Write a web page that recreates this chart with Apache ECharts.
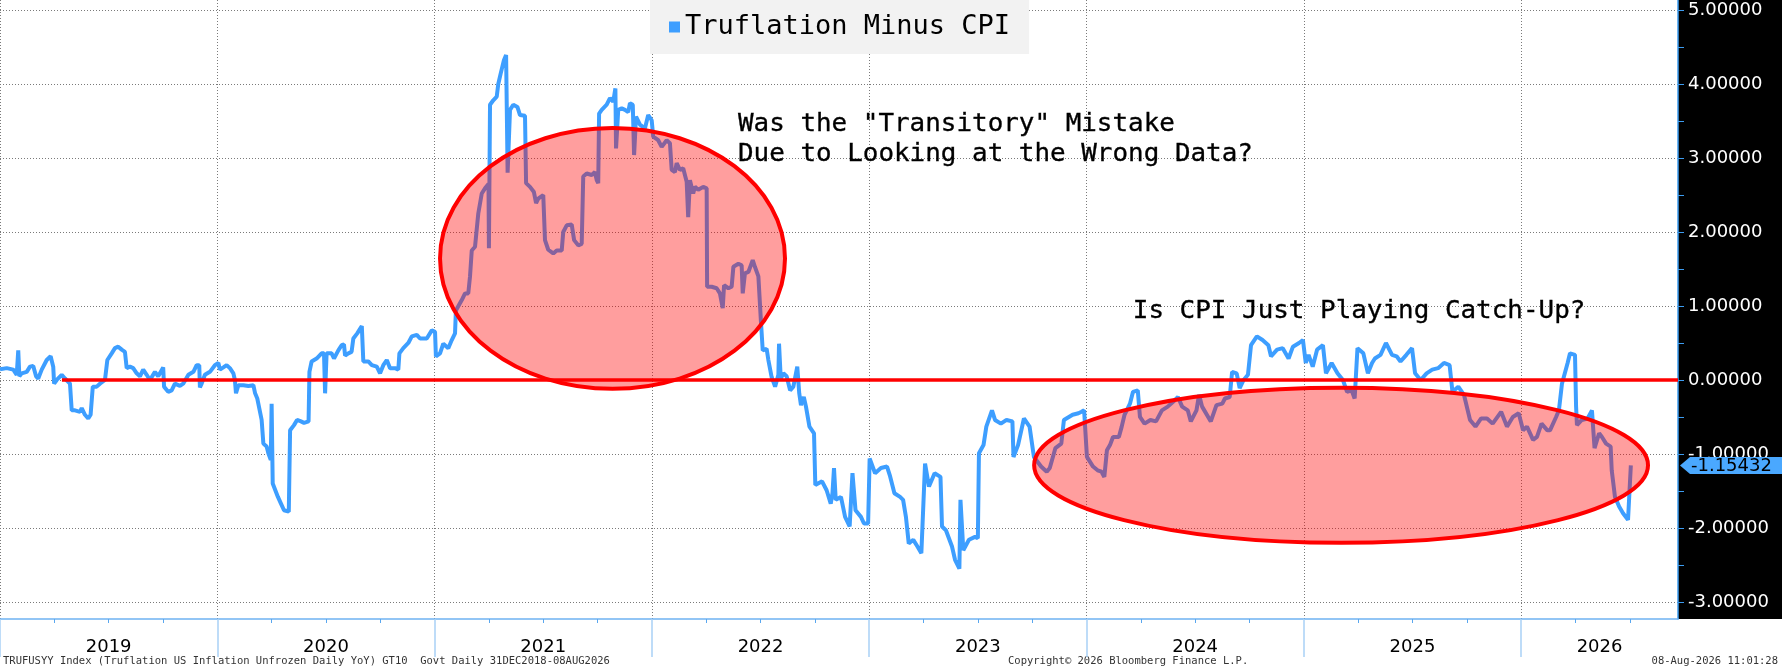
<!DOCTYPE html>
<html>
<head>
<meta charset="utf-8">
<script src="https://cdn.jsdelivr.net/npm/echarts@6/dist/echarts.min.js"></script>
<style>html,body{margin:0;padding:0;background:#fff}#c{width:1782px;height:670px}</style>
</head>
<body>
<div id="c"></div>
<script>
// ---------- DATA (decimal year, value) ----------
const seriesName = 'Truflation Minus CPI';
const seg2019 = [[2019.000,0.145],[2019.031,0.16],[2019.061,0.14],[2019.077,0.07],[2019.084,0.40],[2019.089,0.05],[2019.100,0.09],[2019.123,0.11],[2019.138,0.18],[2019.153,0.19],
[2019.166,0.05],[2019.176,0.02],[2019.192,0.14],[2019.215,0.27],[2019.233,0.32],[2019.245,0.18],[2019.249,-0.05],[2019.261,0.00],[2019.284,0.07],[2019.299,0.02],
[2019.322,-0.05],[2019.330,-0.41],[2019.345,-0.41],[2019.368,-0.43],[2019.376,-0.38],[2019.391,-0.47],[2019.406,-0.52],[2019.417,-0.47],[2019.427,-0.09],[2019.445,-0.09],
[2019.460,-0.05],[2019.483,0.00],[2019.494,0.27],[2019.514,0.36],[2019.529,0.43],[2019.544,0.45],[2019.560,0.41],[2019.575,0.38],[2019.583,0.16],[2019.598,0.18],
[2019.613,0.16],[2019.629,0.09],[2019.644,0.05],[2019.659,0.14],[2019.675,0.07],[2019.690,0.00],[2019.713,0.11],[2019.728,0.05],[2019.751,0.17],[2019.755,-0.09],
[2019.774,-0.16],[2019.790,-0.14],[2019.805,-0.05],[2019.828,-0.08],[2019.843,-0.05],[2019.867,0.07],[2019.890,0.11],[2019.905,0.20],[2019.917,0.20],[2019.920,-0.10],
[2019.928,-0.05],[2019.943,0.07],[2019.966,0.11],[2019.989,0.20]];
const seg2020 = [[2020.005,0.23],[2020.012,0.14],[2020.028,0.17],[2020.043,0.20],[2020.058,0.16],[2020.074,0.09],[2020.081,0.00],[2020.086,-0.18],[2020.097,-0.07],[2020.120,-0.07],
[2020.143,-0.08],[2020.166,-0.07],[2020.174,-0.18],[2020.184,-0.25],[2020.193,-0.38],[2020.204,-0.54],[2020.212,-0.86],[2020.227,-0.90],[2020.235,-0.99],[2020.246,-1.08],
[2020.250,-0.32],[2020.255,-1.40],[2020.279,-1.58],[2020.293,-1.67],[2020.307,-1.76],[2020.329,-1.78],[2020.335,-0.68],[2020.353,-0.61],[2020.367,-0.54],[2020.385,-0.56],
[2020.399,-0.58],[2020.420,-0.56],[2020.424,0.11],[2020.434,0.25],[2020.457,0.29],[2020.480,0.36],[2020.491,0.36],[2020.496,-0.18],[2020.503,0.36],[2020.526,0.36],
[2020.537,0.29],[2020.557,0.40],[2020.572,0.47],[2020.583,0.48],[2020.588,0.33],[2020.603,0.36],[2020.618,0.38],[2020.626,0.56],[2020.644,0.63],[2020.665,0.73],
[2020.672,0.25],[2020.695,0.25],[2020.711,0.20],[2020.734,0.18],[2020.749,0.09],[2020.764,0.20],[2020.780,0.27],[2020.795,0.16],[2020.818,0.16],[2020.833,0.14],
[2020.838,0.36],[2020.856,0.43],[2020.879,0.50],[2020.895,0.59],[2020.918,0.61],[2020.933,0.56],[2020.964,0.56],[2020.987,0.67]];
const seg2021 = [[2021.002,0.65],[2021.006,0.32],[2021.025,0.36],[2021.040,0.49],[2021.063,0.43],[2021.079,0.54],[2021.094,0.63],[2021.098,0.94],[2021.125,1.08],[2021.140,1.17],
[2021.155,1.17],[2021.163,1.40],[2021.171,1.75],[2021.186,1.80],[2021.201,2.25],[2021.217,2.52],[2021.232,2.59],[2021.240,2.61],[2021.248,2.65],[2021.250,1.78],
[2021.255,3.72],[2021.270,3.78],[2021.286,3.83],[2021.293,4.00],[2021.304,4.14],[2021.319,4.32],[2021.329,4.39],[2021.336,2.80],[2021.347,3.65],[2021.362,3.72],
[2021.381,3.69],[2021.393,3.58],[2021.416,3.57],[2021.421,2.66],[2021.439,2.61],[2021.457,2.54],[2021.467,2.39],[2021.477,2.45],[2021.500,2.50],[2021.508,1.89],
[2021.523,1.76],[2021.546,1.71],[2021.562,1.75],[2021.585,1.75],[2021.592,2.00],[2021.608,2.09],[2021.631,2.10],[2021.642,1.89],[2021.661,1.82],[2021.677,1.84],
[2021.684,2.75],[2021.700,2.79],[2021.723,2.77],[2021.738,2.81],[2021.746,2.70],[2021.753,2.66],[2021.757,3.60],[2021.769,3.65],[2021.792,3.72],[2021.807,3.81],
[2021.822,3.76],[2021.832,3.94],[2021.835,3.13],[2021.845,3.65],[2021.861,3.67],[2021.876,3.65],[2021.891,3.62],[2021.899,3.74],[2021.912,3.72],[2021.918,3.04],
[2021.927,3.56],[2021.945,3.45],[2021.968,3.40],[2021.983,3.58],[2021.999,3.51]];
const seg2022 = [[2022.006,3.29],[2022.029,3.24],[2022.045,3.15],[2022.068,3.24],[2022.083,3.20],[2022.091,2.84],[2022.106,2.81],[2022.114,2.93],[2022.129,2.84],[2022.144,2.86],
[2022.160,2.68],[2022.167,2.20],[2022.175,2.70],[2022.190,2.52],[2022.198,2.61],[2022.213,2.57],[2022.221,2.59],[2022.236,2.61],[2022.252,2.59],[2022.254,1.26],
[2022.275,1.26],[2022.298,1.24],[2022.313,1.17],[2022.326,0.97],[2022.332,1.28],[2022.352,1.24],[2022.367,1.26],[2022.375,1.53],[2022.398,1.57],[2022.413,1.55],
[2022.418,1.17],[2022.428,1.44],[2022.444,1.46],[2022.464,1.62],[2022.474,1.53],[2022.490,1.40],[2022.497,1.38],[2022.502,0.78],[2022.510,0.40],[2022.528,0.42],
[2022.536,0.27],[2022.551,0.04],[2022.567,-0.09],[2022.582,0.07],[2022.585,0.49],[2022.593,0.02],[2022.605,0.09],[2022.620,0.05],[2022.636,-0.14],[2022.651,-0.09],
[2022.669,0.18],[2022.678,-0.18],[2022.686,-0.34],[2022.699,-0.23],[2022.709,-0.36],[2022.725,-0.63],[2022.746,-0.72],[2022.752,-1.42],[2022.783,-1.37],[2022.804,-1.49],
[2022.823,-1.67],[2022.831,-1.53],[2022.838,-1.19],[2022.846,-1.62],[2022.870,-1.58],[2022.889,-1.85],[2022.910,-1.98],[2022.923,-1.26],[2022.937,-1.76],[2022.962,-1.85],
[2022.976,-1.94],[2022.995,-1.94]];
const seg2023 = [[2023.002,-1.06],[2023.027,-1.26],[2023.054,-1.19],[2023.082,-1.17],[2023.096,-1.30],[2023.116,-1.53],[2023.142,-1.58],[2023.156,-1.62],[2023.169,-1.85],[2023.182,-2.21],
[2023.203,-2.16],[2023.222,-2.25],[2023.240,-2.34],[2023.257,-1.13],[2023.275,-1.44],[2023.301,-1.26],[2023.328,-1.31],[2023.335,-1.98],[2023.353,-2.03],[2023.381,-2.25],
[2023.395,-2.43],[2023.415,-2.55],[2023.420,-1.62],[2023.433,-2.30],[2023.459,-2.16],[2023.487,-2.12],[2023.500,-2.14],[2023.505,-0.99],[2023.526,-0.88],[2023.539,-0.63],
[2023.565,-0.41],[2023.579,-0.54],[2023.606,-0.59],[2023.632,-0.54],[2023.659,-0.56],[2023.664,-1.04],[2023.685,-0.88],[2023.712,-0.52],[2023.738,-0.63],[2023.758,-1.04],
[2023.791,-1.17],[2023.817,-1.24],[2023.831,-1.19],[2023.857,-0.92],[2023.884,-0.86],[2023.896,-0.54],[2023.936,-0.47],[2023.963,-0.45],[2023.977,-0.43],[2023.989,-0.41]];
const seg2024 = [[2024.002,-1.04],[2024.030,-1.17],[2024.051,-1.22],[2024.069,-1.24],[2024.082,-1.31],[2024.094,-0.95],[2024.108,-0.88],[2024.122,-0.77],[2024.149,-0.77],[2024.162,-0.63],
[2024.175,-0.47],[2024.200,-0.32],[2024.214,-0.16],[2024.236,-0.14],[2024.246,-0.50],[2024.267,-0.59],[2024.294,-0.54],[2024.320,-0.56],[2024.347,-0.41],[2024.374,-0.36],
[2024.400,-0.29],[2024.421,-0.23],[2024.440,-0.36],[2024.466,-0.41],[2024.480,-0.56],[2024.506,-0.41],[2024.518,-0.20],[2024.532,-0.36],[2024.572,-0.56],[2024.598,-0.34],
[2024.625,-0.32],[2024.637,-0.25],[2024.659,-0.23],[2024.670,0.11],[2024.691,0.09],[2024.705,-0.11],[2024.723,0.00],[2024.743,0.07],[2024.757,0.47],[2024.784,0.59],
[2024.810,0.54],[2024.837,0.47],[2024.849,0.32],[2024.877,0.41],[2024.903,0.43],[2024.930,0.29],[2024.950,0.45],[2024.978,0.50],[2024.996,0.54]];
const seg2025 = [[2025.009,0.23],[2025.022,0.34],[2025.041,0.18],[2025.061,0.41],[2025.088,0.47],[2025.102,0.09],[2025.128,0.23],[2025.155,0.09],[2025.180,0.00],[2025.199,-0.16],
[2025.220,-0.14],[2025.234,-0.25],[2025.247,0.43],[2025.274,0.36],[2025.295,0.09],[2025.314,0.23],[2025.327,0.29],[2025.353,0.34],[2025.378,0.50],[2025.406,0.34],
[2025.427,0.32],[2025.445,0.25],[2025.472,0.34],[2025.498,0.43],[2025.512,0.09],[2025.538,0.00],[2025.565,0.09],[2025.591,0.14],[2025.618,0.16],[2025.645,0.23],
[2025.671,0.20],[2025.684,-0.16],[2025.711,-0.09],[2025.737,-0.20],[2025.765,-0.54],[2025.790,-0.63],[2025.816,-0.52],[2025.843,-0.52],[2025.869,-0.59],[2025.908,-0.43],
[2025.935,-0.63],[2025.962,-0.50],[2025.989,-0.45]];
const seg2026 = [[2026.009,-0.68],[2026.027,-0.63],[2026.055,-0.81],[2026.073,-0.77],[2026.094,-0.59],[2026.121,-0.68],[2026.133,-0.68],[2026.161,-0.50],[2026.174,-0.41],[2026.188,-0.05],
[2026.214,0.23],[2026.225,0.36],[2026.248,0.34],[2026.253,-0.36],[2026.257,-0.61],[2026.279,-0.54],[2026.306,-0.52],[2026.326,-0.41],[2026.338,-0.92],[2026.359,-0.72],
[2026.372,-0.77],[2026.391,-0.86],[2026.412,-0.90],[2026.417,-1.22],[2026.432,-1.58],[2026.451,-1.71],[2026.469,-1.80],[2026.492,-1.89],[2026.501,-1.87],[2026.505,-1.15432]];

const lastValue = -1.15432;
const yTickValues = [-3, -2, -1, 0, 1, 2, 3, 4, 5];
const yMinorTickValues = [-2.5, -1.5, -0.5, 0.5, 1.5, 2.5, 3.5, 4.5];
const yearBoundaries = [2019, 2020, 2021, 2022, 2023, 2024, 2025, 2026];
const quarterTicks = [2019.25, 2019.5, 2019.75, 2020.25, 2020.5, 2020.75, 2021.25, 2021.5, 2021.75, 2022.25, 2022.5, 2022.75,
  2023.25, 2023.5, 2023.75, 2024.25, 2024.5, 2024.75, 2025.25, 2025.5, 2025.75, 2026.25, 2026.5];
const yearLabelPositions = [2019.5, 2020.5, 2021.5, 2022.5, 2023.5, 2024.5, 2025.5, 2026.361];
const zeroLine = [[2019.285, 0], [2026.722, 0]];
// ellipse bounds: [xLeft, xRight, yBottom, yTop]
const ellipseBounds = [[2021.025, 2022.6125, -0.12, 3.405], [2023.759, 2026.584, -2.20, -0.104]];
const noteAnchors = [[2022.396, 3.446], [2022.396, 3.045], [2024.213, 0.919]];
const noteTexts = ['Was the "Transitory" Mistake', 'Due to Looking at the Wrong Data?', 'Is CPI Just Playing Catch-Up?'];

const X_MIN = 2019.0, X_MAX = 2026.722, Y_MIN = -3.23, Y_MAX = 5.135;
const BLUE = '#3d9eff';

const lineData = [].concat(seg2019, seg2020, seg2021, seg2022, seg2023, seg2024, seg2025, seg2026);

const chart = echarts.init(document.getElementById('c'), null, { renderer: 'canvas' });
const gridLine = { color: '#7a7a7a', type: [1, 2], width: 1 };

chart.setOption({
  animation: false,
  backgroundColor: '#ffffff',
  grid: { left: 0, right: 104, top: 0, bottom: 51, containLabel: false },
  legend: {
    data: [seriesName], left: 650, top: 0, padding: [12, 19, 12, 19],
    backgroundColor: '#f2f2f2', icon: 'rect', itemWidth: 11, itemHeight: 11,
    textStyle: { fontFamily: 'DejaVu Sans Mono', fontSize: 27, color: '#000', lineHeight: 30 }
  },
  xAxis: [
    {
      type: 'value', min: X_MIN, max: X_MAX, position: 'bottom',
      axisLine: { show: true, onZero: false, lineStyle: { color: '#6fb2f2', width: 1.5 } },
      axisTick: { show: true, customValues: quarterTicks, length: 4, lineStyle: { color: '#5aa7ef' } },
      axisLabel: { show: false }, splitLine: { show: false }
    },
    {
      type: 'value', min: X_MIN, max: X_MAX, position: 'bottom',
      axisLine: { show: false, onZero: false },
      axisTick: { show: true, customValues: yearBoundaries, length: 38, lineStyle: { color: '#a9d1f6', width: 1.5 } },
      axisLabel: { show: true, customValues: yearLabelPositions, formatter: v => String(Math.floor(v)),
        fontFamily: 'DejaVu Sans', fontSize: 18, color: '#000', margin: 19 },
      splitLine: { show: true, lineStyle: gridLine }
    }
  ],
  yAxis: [
    {
      type: 'value', min: Y_MIN, max: Y_MAX, position: 'right',
      axisLine: { show: true, onZero: false, lineStyle: { color: '#3d9cf0', width: 1.5 } },
      axisTick: { show: true, customValues: yTickValues, length: 6, lineStyle: { color: '#3d9cf0' } },
      axisLabel: { show: true, customValues: yTickValues, formatter: v => v.toFixed(5),
        color: '#ffffff', fontFamily: 'DejaVu Sans', fontSize: 18, margin: 10 },
      splitLine: { show: true, lineStyle: gridLine }
    },
    {
      type: 'value', min: Y_MIN, max: Y_MAX, position: 'right',
      axisLine: { show: false, onZero: false },
      axisTick: { show: true, customValues: yMinorTickValues, length: 6, lineStyle: { color: '#3d9cf0' } },
      axisLabel: { show: false }, splitLine: { show: false }
    }
  ],
  series: [
    {
      name: seriesName, type: 'line', xAxisIndex: 0, yAxisIndex: 0, data: lineData,
      showSymbol: false, symbol: 'none', color: BLUE, clip: false, z: 2,
      lineStyle: { color: BLUE, width: 4 }, emphasis: { disabled: true }
    },
    {
      type: 'custom', xAxisIndex: 0, yAxisIndex: 0, z: 3, silent: true, clip: false,
      data: ellipseBounds, encode: { x: [0, 1], y: [2, 3] },
      renderItem: function (params, api) {
        const a = api.coord([api.value(0), api.value(2)]);
        const b = api.coord([api.value(1), api.value(3)]);
        return {
          type: 'ellipse',
          shape: { cx: (a[0] + b[0]) / 2, cy: (a[1] + b[1]) / 2, rx: Math.abs(b[0] - a[0]) / 2, ry: Math.abs(b[1] - a[1]) / 2 },
          style: { fill: 'rgba(255,0,0,0.38)', stroke: '#ff0000', lineWidth: 4 }
        };
      }
    },
    {
      type: 'line', xAxisIndex: 0, yAxisIndex: 0, data: zeroLine, z: 4, silent: true,
      showSymbol: false, symbol: 'none', clip: false,
      lineStyle: { color: '#ff0000', width: 3.5 }, color: '#ff0000'
    },
    {
      type: 'custom', xAxisIndex: 0, yAxisIndex: 0, z: 5, silent: true, clip: false,
      data: noteAnchors,
      renderItem: function (params, api) {
        const p = api.coord([api.value(0), api.value(1)]);
        return {
          type: 'text', x: p[0], y: p[1], scaleX: 1.08,
          style: { text: noteTexts[params.dataIndex], fontFamily: 'DejaVu Sans Mono', fontSize: 24,
            fill: '#000', stroke: '#000', lineWidth: 0.3, align: 'left', verticalAlign: 'middle' }
        };
      }
    },
    {
      type: 'custom', xAxisIndex: 0, yAxisIndex: 0, z: 6, silent: true, clip: false,
      data: [[X_MAX, lastValue]],
      renderItem: function (params, api) {
        const p = api.coord([api.value(0), api.value(1)]);
        const x = p[0], y = p[1];
        return {
          type: 'group',
          children: [
            { type: 'polygon', shape: { points: [[x + 2, y], [x + 12, y - 8.5], [x + 106, y - 8.5], [x + 106, y + 8.5], [x + 12, y + 8.5]] },
              style: { fill: '#4aa8ff' } },
            { type: 'text', x: x + 13, y: y + 0.5,
              style: { text: api.value(1).toFixed(5), fontFamily: 'DejaVu Sans', fontSize: 18, fill: '#000',
                align: 'left', verticalAlign: 'middle' } }
          ]
        };
      }
    }
  ],
  graphic: [
    { type: 'rect', right: 0, top: 0, z: -10, silent: true, shape: { width: 104, height: 619 }, style: { fill: '#000' } },
    { type: 'text', left: 3, top: 656, silent: true,
      style: { text: 'TRUFUSYY Index (Truflation US Inflation Unfrozen Daily YoY) GT10  Govt Daily 31DEC2018-08AUG2026',
        fontFamily: 'DejaVu Sans Mono', fontSize: 10.5, fill: '#333' } },
    { type: 'text', left: 1008, top: 656, silent: true,
      style: { text: 'Copyright\u00A9 2026 Bloomberg Finance L.P.', fontFamily: 'DejaVu Sans Mono', fontSize: 10.5, fill: '#333' } },
    { type: 'text', right: 4, top: 656, silent: true,
      style: { text: '08-Aug-2026 11:01:28', fontFamily: 'DejaVu Sans Mono', fontSize: 10.5, fill: '#333' } }
  ]
});
</script>
</body>
</html>
